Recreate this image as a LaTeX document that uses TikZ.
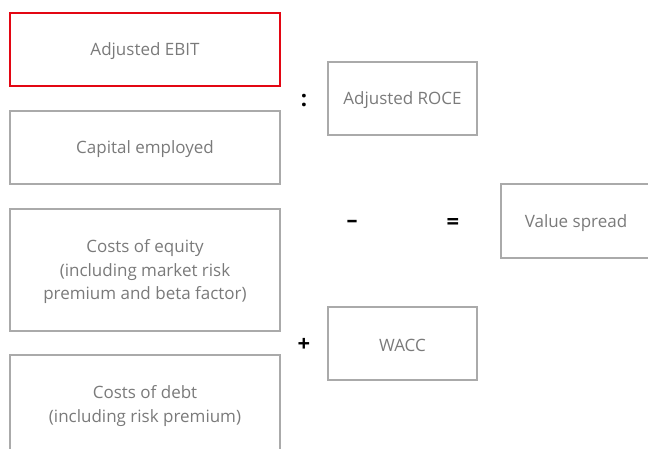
\documentclass[tikz,border=0pt]{standalone}
\usepackage{fontspec}
\setmainfont{Open Sans}
\definecolor{boxgray}{HTML}{AAAAAA}
\definecolor{txtgray}{HTML}{7A7A7A}
\definecolor{ered}{HTML}{E30613}
\begin{document}
\begin{tikzpicture}[x=1pt,y=-1pt,
  box/.style={draw=boxgray,line width=1.5pt,inner sep=0pt},
  txt/.style={text=txtgray,align=center,font=\fontsize{17}{23.5}\selectfont,inner sep=0pt,yshift=-2pt},
  op/.style={text=black,font=\fontsize{22}{22}\selectfont\bfseries,inner sep=0pt}]
\useasboundingbox (0,0) rectangle (648,448);
\clip (0,0) rectangle (648,448);
\node[box,draw=ered,minimum width=270pt,minimum height=73pt,label={[txt]center:Adjusted EBIT}] (ebit) at (145,49.5) {};
\node[box,minimum width=270pt,minimum height=73pt,label={[txt]center:Capital employed}] (cap) at (145,147.5) {};
\node[box,minimum width=270pt,minimum height=122pt,label={[txt]center:Costs of equity\\(including market risk\\premium and beta factor)}] (eq) at (145,270) {};
\node[box,minimum width=270pt,minimum height=98pt,label={[txt]center:Costs of debt\\(including risk premium)}] (debt) at (145,404) {};
\node[box,minimum width=149pt,minimum height=73pt,label={[txt]center:Adjusted ROCE}] (roce) at (402.5,98.5) {};
\node[box,minimum width=149pt,minimum height=73pt,label={[txt]center:WACC}] (wacc) at (402.5,343.5) {};
\node[box,minimum width=150pt,minimum height=74pt,label={[txt]center:Value spread}] (vs) at (576,221) {};
\node[op] (colon) at (304,101) {:};
\node[op] (minus) at (352,223.5) {–};
\node[op] (eqs) at (453,224) {=};
\node[op] (plus) at (304,345) {+};
\end{tikzpicture}
\end{document}
